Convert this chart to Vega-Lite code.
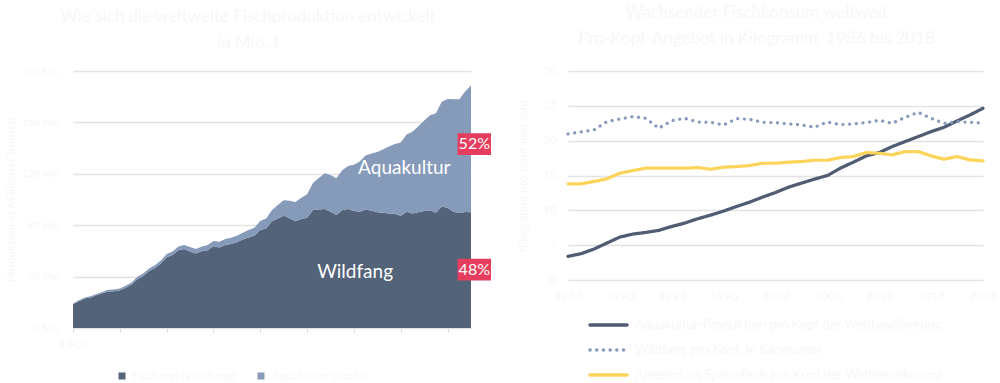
{
  "$schema": "https://vega.github.io/schema/vega-lite/v6.json",
  "background": "white",
  "padding": {"left": 4, "top": 4, "right": 5, "bottom": 2},
  "config": {
    "view": {"stroke": null},
    "font": "Lato",
    "axis": {"labelColor": "#f7f7f7", "titleColor": "#f7f7f7", "labelFont": "Lato", "titleFont": "Lato", "titleFontWeight": "normal"},
    "legend": {"labelColor": "#f7f7f7", "labelFont": "Lato", "padding": 0},
    "title": {"color": "#f7f7f7", "font": "Lato", "fontSize": 17, "fontWeight": "normal", "anchor": "middle", "frame": "bounds", "lineHeight": 26}
  },
  "datasets": {
    "produktion": [
      {"jahr": 1950, "Wildfang": 18.4, "Aquakultur": 0.6},
      {"jahr": 1951, "Wildfang": 20.9, "Aquakultur": 0.7},
      {"jahr": 1952, "Wildfang": 22.9, "Aquakultur": 0.8},
      {"jahr": 1953, "Wildfang": 23.8, "Aquakultur": 0.9},
      {"jahr": 1954, "Wildfang": 25.5, "Aquakultur": 1.0},
      {"jahr": 1955, "Wildfang": 27.0, "Aquakultur": 1.1},
      {"jahr": 1956, "Wildfang": 28.5, "Aquakultur": 1.2},
      {"jahr": 1957, "Wildfang": 28.6, "Aquakultur": 1.3},
      {"jahr": 1958, "Wildfang": 29.3, "Aquakultur": 1.4},
      {"jahr": 1959, "Wildfang": 31.3, "Aquakultur": 1.5},
      {"jahr": 1960, "Wildfang": 33.8, "Aquakultur": 1.6},
      {"jahr": 1961, "Wildfang": 38.0, "Aquakultur": 1.8},
      {"jahr": 1962, "Wildfang": 40.5, "Aquakultur": 1.9},
      {"jahr": 1963, "Wildfang": 44.3, "Aquakultur": 2.0},
      {"jahr": 1964, "Wildfang": 46.7, "Aquakultur": 2.2},
      {"jahr": 1965, "Wildfang": 50.2, "Aquakultur": 2.3},
      {"jahr": 1966, "Wildfang": 55.0, "Aquakultur": 2.5},
      {"jahr": 1967, "Wildfang": 56.8, "Aquakultur": 2.7},
      {"jahr": 1968, "Wildfang": 60.6, "Aquakultur": 2.9},
      {"jahr": 1969, "Wildfang": 61.4, "Aquakultur": 3.1},
      {"jahr": 1970, "Wildfang": 59.6, "Aquakultur": 3.4},
      {"jahr": 1971, "Wildfang": 57.9, "Aquakultur": 3.6},
      {"jahr": 1972, "Wildfang": 59.7, "Aquakultur": 3.8},
      {"jahr": 1973, "Wildfang": 60.5, "Aquakultur": 4.0},
      {"jahr": 1974, "Wildfang": 63.6, "Aquakultur": 4.2},
      {"jahr": 1975, "Wildfang": 62.7, "Aquakultur": 4.4},
      {"jahr": 1976, "Wildfang": 64.6, "Aquakultur": 4.6},
      {"jahr": 1977, "Wildfang": 65.4, "Aquakultur": 4.8},
      {"jahr": 1978, "Wildfang": 66.8, "Aquakultur": 5.0},
      {"jahr": 1979, "Wildfang": 68.9, "Aquakultur": 5.2},
      {"jahr": 1980, "Wildfang": 70.5, "Aquakultur": 5.7},
      {"jahr": 1981, "Wildfang": 71.8, "Aquakultur": 6.2},
      {"jahr": 1982, "Wildfang": 76.2, "Aquakultur": 7.0},
      {"jahr": 1983, "Wildfang": 77.5, "Aquakultur": 7.8},
      {"jahr": 1984, "Wildfang": 83.0, "Aquakultur": 8.8},
      {"jahr": 1985, "Wildfang": 85.3, "Aquakultur": 10.4},
      {"jahr": 1986, "Wildfang": 87.4, "Aquakultur": 12.0},
      {"jahr": 1987, "Wildfang": 85.5, "Aquakultur": 13.5},
      {"jahr": 1988, "Wildfang": 83.0, "Aquakultur": 15.0},
      {"jahr": 1989, "Wildfang": 84.8, "Aquakultur": 16.5},
      {"jahr": 1990, "Wildfang": 85.8, "Aquakultur": 18.2},
      {"jahr": 1991, "Wildfang": 91.8, "Aquakultur": 21.0},
      {"jahr": 1992, "Wildfang": 92.3, "Aquakultur": 24.5},
      {"jahr": 1993, "Wildfang": 92.6, "Aquakultur": 27.8},
      {"jahr": 1994, "Wildfang": 90.5, "Aquakultur": 28.5},
      {"jahr": 1995, "Wildfang": 87.9, "Aquakultur": 28.6},
      {"jahr": 1996, "Wildfang": 91.8, "Aquakultur": 31.0},
      {"jahr": 1997, "Wildfang": 92.6, "Aquakultur": 33.5},
      {"jahr": 1998, "Wildfang": 91.0, "Aquakultur": 36.0},
      {"jahr": 1999, "Wildfang": 90.5, "Aquakultur": 39.0},
      {"jahr": 2000, "Wildfang": 92.3, "Aquakultur": 42.0},
      {"jahr": 2001, "Wildfang": 91.3, "Aquakultur": 44.5},
      {"jahr": 2002, "Wildfang": 90.0, "Aquakultur": 47.0},
      {"jahr": 2003, "Wildfang": 89.7, "Aquakultur": 49.5},
      {"jahr": 2004, "Wildfang": 89.2, "Aquakultur": 52.0},
      {"jahr": 2005, "Wildfang": 88.7, "Aquakultur": 54.5},
      {"jahr": 2006, "Wildfang": 87.4, "Aquakultur": 57.0},
      {"jahr": 2007, "Wildfang": 90.5, "Aquakultur": 60.0},
      {"jahr": 2008, "Wildfang": 89.2, "Aquakultur": 63.5},
      {"jahr": 2009, "Wildfang": 90.0, "Aquakultur": 67.0},
      {"jahr": 2010, "Wildfang": 91.0, "Aquakultur": 70.5},
      {"jahr": 2011, "Wildfang": 91.6, "Aquakultur": 74.0},
      {"jahr": 2012, "Wildfang": 89.7, "Aquakultur": 77.5},
      {"jahr": 2013, "Wildfang": 94.5, "Aquakultur": 81.5},
      {"jahr": 2014, "Wildfang": 93.6, "Aquakultur": 84.6},
      {"jahr": 2015, "Wildfang": 90.5, "Aquakultur": 87.5},
      {"jahr": 2016, "Wildfang": 89.5, "Aquakultur": 88.5},
      {"jahr": 2017, "Wildfang": 90.3, "Aquakultur": 93.8},
      {"jahr": 2018, "Wildfang": 90.0, "Aquakultur": 98.8}
    ],
    "beschriftung": [
      {"jahr": 2006.6, "menge": 124.5, "text": "Aquakultur"},
      {"jahr": 1998.2, "menge": 43.5, "text": "Wildfang"}
    ],
    "anteile": [
      {"jahr": 2018, "menge": 143, "text": "52%"},
      {"jahr": 2018, "menge": 45.4, "text": "48%"}
    ],
    "prokopf": [
      {"jahr": 1986, "Aquakultur": 3.39, "Wildfang": 20.96, "Angebot": 13.80},
      {"jahr": 1987, "Aquakultur": 3.77, "Wildfang": 21.25, "Angebot": 13.80},
      {"jahr": 1988, "Aquakultur": 4.44, "Wildfang": 21.54, "Angebot": 14.14},
      {"jahr": 1989, "Aquakultur": 5.30, "Wildfang": 22.73, "Angebot": 14.52},
      {"jahr": 1990, "Aquakultur": 6.16, "Wildfang": 23.11, "Angebot": 15.33},
      {"jahr": 1991, "Aquakultur": 6.59, "Wildfang": 23.45, "Angebot": 15.71},
      {"jahr": 1992, "Aquakultur": 6.83, "Wildfang": 23.21, "Angebot": 16.05},
      {"jahr": 1993, "Aquakultur": 7.12, "Wildfang": 21.78, "Angebot": 16.05},
      {"jahr": 1994, "Aquakultur": 7.69, "Wildfang": 22.87, "Angebot": 16.05},
      {"jahr": 1995, "Aquakultur": 8.17, "Wildfang": 23.21, "Angebot": 16.05},
      {"jahr": 1996, "Aquakultur": 8.79, "Wildfang": 22.68, "Angebot": 16.14},
      {"jahr": 1997, "Aquakultur": 9.31, "Wildfang": 22.64, "Angebot": 15.90},
      {"jahr": 1998, "Aquakultur": 9.89, "Wildfang": 22.25, "Angebot": 16.19},
      {"jahr": 1999, "Aquakultur": 10.55, "Wildfang": 23.16, "Angebot": 16.28},
      {"jahr": 2000, "Aquakultur": 11.17, "Wildfang": 23.07, "Angebot": 16.43},
      {"jahr": 2001, "Aquakultur": 11.89, "Wildfang": 22.64, "Angebot": 16.76},
      {"jahr": 2002, "Aquakultur": 12.56, "Wildfang": 22.59, "Angebot": 16.76},
      {"jahr": 2003, "Aquakultur": 13.32, "Wildfang": 22.40, "Angebot": 16.91},
      {"jahr": 2004, "Aquakultur": 13.90, "Wildfang": 22.25, "Angebot": 17.00},
      {"jahr": 2005, "Aquakultur": 14.47, "Wildfang": 21.92, "Angebot": 17.19},
      {"jahr": 2006, "Aquakultur": 15.00, "Wildfang": 22.68, "Angebot": 17.19},
      {"jahr": 2007, "Aquakultur": 16.05, "Wildfang": 22.30, "Angebot": 17.57},
      {"jahr": 2008, "Aquakultur": 16.91, "Wildfang": 22.40, "Angebot": 17.72},
      {"jahr": 2009, "Aquakultur": 17.81, "Wildfang": 22.59, "Angebot": 18.29},
      {"jahr": 2010, "Aquakultur": 18.29, "Wildfang": 22.92, "Angebot": 18.19},
      {"jahr": 2011, "Aquakultur": 19.15, "Wildfang": 22.49, "Angebot": 17.96},
      {"jahr": 2012, "Aquakultur": 19.87, "Wildfang": 23.35, "Angebot": 18.43},
      {"jahr": 2013, "Aquakultur": 20.58, "Wildfang": 24.07, "Angebot": 18.43},
      {"jahr": 2014, "Aquakultur": 21.30, "Wildfang": 23.21, "Angebot": 17.81},
      {"jahr": 2015, "Aquakultur": 21.92, "Wildfang": 22.49, "Angebot": 17.34},
      {"jahr": 2016, "Aquakultur": 22.83, "Wildfang": 22.73, "Angebot": 17.72},
      {"jahr": 2017, "Aquakultur": 23.69, "Wildfang": 22.64, "Angebot": 17.24},
      {"jahr": 2018, "Aquakultur": 24.64, "Wildfang": 22.49, "Angebot": 17.10}
    ]
  },
  "bounds": "flush",
  "spacing": 97,
  "resolve": {
    "scale": {"color": "independent", "strokeDash": "independent", "x": "independent", "y": "independent"},
    "legend": {"color": "independent", "strokeDash": "independent"}
  },
  "hconcat": [
    {
      "width": 398,
      "height": 257,
      "title": {"text": ["Wie sich die weltweite Fischproduktion entwickelt", "in Mio. t"], "offset": 14},
      "layer": [
        {
          "data": {"name": "produktion"},
          "transform": [{"fold": ["Wildfang", "Aquakultur"], "as": ["typ", "menge"]}],
          "mark": {"type": "area", "interpolate": "linear"},
          "encoding": {
            "x": {
              "field": "jahr", "type": "quantitative",
              "scale": {"domain": [1950, 2018], "nice": false, "zero": false},
              "axis": {
                "title": null, "grid": false, "domain": false, "ticks": true,
                "tickColor": "#dadada", "tickSize": 4, "tickWidth": 1,
                "values": [1950,1951,1952,1953,1954,1955,1956,1957,1958,1959,1960,1961,1962,1963,1964,1965,1966,1967,1968,1969,1970,1971,1972,1973,1974,1975,1976,1977,1978,1979,1980,1981,1982,1983,1984,1985,1986,1987,1988,1989,1990,1991,1992,1993,1994,1995,1996,1997,1998,1999,2000,2001,2002,2003,2004,2005,2006,2007,2008,2009,2010,2011,2012,2013,2014,2015,2016,2017,2018],
                "labelExpr": "(datum.value - 1950) % 9 == 0 ? datum.label : ''",
                "labelOverlap": false, "labelFlush": false, "labelFontSize": 12, "labelPadding": 6
              }
            },
            "y": {
              "field": "menge", "type": "quantitative", "stack": "zero",
              "scale": {"domain": [0, 200], "nice": false},
              "axis": {
                "title": "Produktion in Millionen Tonnen", "titleFontSize": 12, "titlePadding": 4,
                "values": [0, 20, 40, 60, 80, 100, 120, 140, 160, 180, 200],
                "labelExpr": "datum.value + ' Mio'",
                "grid": true, "gridColor": "#e3e3e3", "gridWidth": 1.5,
                "domain": false, "ticks": false, "labelPadding": 14, "labelFontSize": 10
              }
            },
            "color": {
              "field": "typ", "type": "nominal",
              "scale": {"domain": ["Wildfang", "Aquakultur"], "range": ["#536379", "#869aba"]},
              "legend": {
                "title": null, "orient": "none", "legendX": 43, "legendY": 299,
                "direction": "horizontal", "symbolType": "square", "symbolSize": 49,
                "symbolStrokeWidth": 0, "labelFontSize": 12, "columnPadding": 18,
                "labelExpr": "datum.label == 'Wildfang' ? 'Fischerei (Wildfang)' : 'Aquakultur (Zucht)'"
              }
            },
            "order": {"field": "typ", "sort": "descending"}
          }
        },
        {
          "data": {"name": "beschriftung"},
          "mark": {"type": "text", "color": "white", "fontSize": 19, "font": "Lato", "align": "center", "baseline": "middle"},
          "encoding": {
            "x": {"field": "jahr", "type": "quantitative"},
            "y": {"field": "menge", "type": "quantitative"},
            "text": {"field": "text"}
          }
        },
        {
          "data": {"name": "anteile"},
          "mark": {"type": "point", "shape": "M-1,-0.65H1V0.65H-1Z", "size": 1120, "filled": true, "opacity": 1, "color": "#e63c5e", "xOffset": 3.3},
          "encoding": {
            "x": {"field": "jahr", "type": "quantitative"},
            "y": {"field": "menge", "type": "quantitative"}
          }
        },
        {
          "data": {"name": "anteile"},
          "mark": {"type": "text", "color": "white", "fontSize": 16, "font": "Lato", "align": "center", "baseline": "middle", "xOffset": 3.3},
          "encoding": {
            "x": {"field": "jahr", "type": "quantitative"},
            "y": {"field": "menge", "type": "quantitative"},
            "text": {"field": "text"}
          }
        }
      ]
    },
    {
      "width": 415,
      "height": 209,
      "title": {"text": ["Wachsender Fischkonsum weltweit", "Pro-Kopf-Angebot in Kilogramm, 1986 bis 2018"], "offset": 17},
      "data": {"name": "prokopf"},
      "transform": [{"fold": ["Aquakultur", "Wildfang", "Angebot"], "as": ["reihe", "kg"]}],
      "mark": {"type": "line", "strokeWidth": 3.2, "strokeCap": "round", "strokeJoin": "round"},
      "encoding": {
        "x": {
          "field": "jahr", "type": "quantitative",
          "scale": {"domain": [1986, 2018], "nice": false, "zero": false},
          "axis": {
            "title": null, "grid": false, "domain": false, "ticks": false,
            "values": [1986, 1990, 1994, 1998, 2002, 2006, 2010, 2014, 2018],
            "format": "d", "labelFontSize": 12, "labelPadding": 10, "labelFlush": false
          }
        },
        "y": {
          "field": "kg", "type": "quantitative",
          "scale": {"domain": [0, 30], "nice": false},
          "axis": {
            "title": "Kilogramm pro Kopf und Jahr", "titleFontSize": 12, "titlePadding": 14,
            "values": [0, 5, 10, 15, 20, 25, 30],
            "grid": true, "gridColor": "#e3e3e3", "gridWidth": 1.5,
            "domain": false, "ticks": false, "labelPadding": 12, "labelFontSize": 11
          }
        },
        "color": {
          "field": "reihe", "type": "nominal",
          "scale": {"domain": ["Aquakultur", "Wildfang", "Angebot"], "range": ["#4f5c72", "#8799bd", "#fdd45a"]},
          "legend": {
            "title": null, "orient": "none", "legendX": 20, "legendY": 241.5,
            "direction": "vertical", "symbolType": "stroke", "symbolSize": 1369, "clipHeight": 25,
            "symbolStrokeWidth": 3.5, "labelFontSize": 13, "rowPadding": 0, "labelOffset": 6, "labelLimit": 0,
            "labelExpr": "datum.label == 'Aquakultur' ? 'Aquakultur-Produktion pro Kopf der Weltbevölkerung' : datum.label == 'Wildfang' ? 'Wildfang pro Kopf, in Kilogramm' : 'Angebot an Speisefisch pro Kopf der Weltbevölkerung'",
            "encode": {"symbols": {"update": {"strokeCap": {"value": "round"}}}}
          }
        },
        "strokeDash": {
          "field": "reihe", "type": "nominal",
          "scale": {"domain": ["Aquakultur", "Wildfang", "Angebot"], "range": [[1, 0], [0.1, 6.6], [1, 0]]},
          "legend": {
            "title": null, "orient": "none", "legendX": 20, "legendY": 241.5,
            "direction": "vertical", "symbolType": "stroke", "symbolSize": 1369, "clipHeight": 25,
            "symbolStrokeWidth": 3.5, "labelFontSize": 13, "rowPadding": 0, "labelOffset": 6, "labelLimit": 0,
            "labelExpr": "datum.label == 'Aquakultur' ? 'Aquakultur-Produktion pro Kopf der Weltbevölkerung' : datum.label == 'Wildfang' ? 'Wildfang pro Kopf, in Kilogramm' : 'Angebot an Speisefisch pro Kopf der Weltbevölkerung'",
            "encode": {"symbols": {"update": {"strokeCap": {"value": "round"}}}}
          }
        }
      }
    }
  ]
}
